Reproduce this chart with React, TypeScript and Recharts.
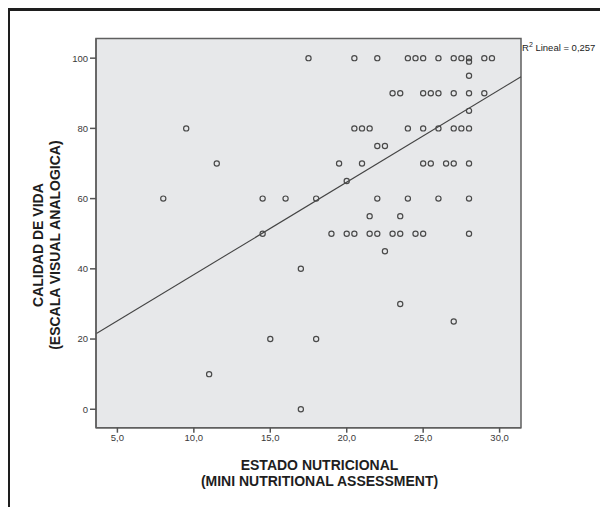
import { ScatterChart, Scatter, XAxis, YAxis, CartesianGrid, ReferenceLine, ReferenceArea, Label } from "recharts"

// MNA score (x) and visual analogue scale (y)
const mnaScores = [
  17.5, 20.5, 22, 24, 24.5, 25, 26, 27, 27.5, 28, 29, 29.5,
  28, 28,
  23, 23.5, 25, 25.5, 26, 27, 28, 29,
  28,
  9.5, 20.5, 21, 21.5, 24, 25, 26, 27, 27.5, 28,
  22, 22.5,
  11.5, 19.5, 21, 25, 25.5, 26.5, 27, 28,
  20,
  8, 14.5, 16, 18, 22, 24, 26, 28,
  21.5, 23.5,
  14.5, 19, 20, 20.5, 21.5, 22, 23, 23.5, 24.5, 25, 28,
  22.5, 17, 23.5, 27, 15, 18, 11, 17,
]
const vasScores = [
  100, 100, 100, 100, 100, 100, 100, 100, 100, 100, 100, 100,
  99, 95,
  90, 90, 90, 90, 90, 90, 90, 90,
  85,
  80, 80, 80, 80, 80, 80, 80, 80, 80, 80,
  75, 75,
  70, 70, 70, 70, 70, 70, 70, 70,
  65,
  60, 60, 60, 60, 60, 60, 60, 60,
  55, 55,
  50, 50, 50, 50, 50, 50, 50, 50, 50, 50, 50,
  45, 40, 30, 25, 20, 20, 10, 0,
]

const xTicks = [5, 10, 15, 20, 25, 30]
const yTicks = [0, 20, 40, 60, 80, 100]
const xDomain: [number, number] = [3.6, 31.4]
const yDomain: [number, number] = [-5.25, 105.6]

// linear fit as drawn
const fitIntercept = 12.0
const fitSlope = 2.634
const rSquaredText = "0,257"

const font = "'Liberation Sans', Arial, sans-serif"

const points = mnaScores.map((x, i) => ({ mna: x, vas: vasScores[i] }))
const fitSegment = xDomain.map((x) => ({ x, y: fitIntercept + fitSlope * x }))

const OpenCircle = (props: any) => (
  <circle cx={props.cx} cy={props.cy} r={2.6} fill="none" stroke="#4a4a4a" strokeWidth={1.2} />
)

function YTitle(props: any) {
  const vb = props.viewBox
  const cy = vb.y + vb.height / 2 + 12
  const style = { fontFamily: font, fontSize: 14, fontWeight: 700, fill: "#1e1e1e" }
  return (
    <g>
      <text x={30.5} y={cy} transform={`rotate(-90 30.5 ${cy})`} textAnchor="middle" dominantBaseline="central" style={style}>
        CALIDAD DE VIDA
      </text>
      <text x={47} y={cy} transform={`rotate(-90 47 ${cy})`} textAnchor="middle" dominantBaseline="central" style={style}>
        (ESCALA VISUAL ANALOGICA)
      </text>
    </g>
  )
}

function XTitle(props: any) {
  const vb = props.viewBox
  const cx = vb.x + vb.width / 2 + 11
  const style = { fontFamily: font, fontSize: 14, fontWeight: 700, fill: "#1e1e1e" }
  return (
    <g>
      <text x={cx} y={vb.y + 42} textAnchor="middle" style={style}>
        ESTADO NUTRICIONAL
      </text>
      <text x={cx} y={vb.y + 58} textAnchor="middle" style={style}>
        (MINI NUTRITIONAL ASSESSMENT)
      </text>
    </g>
  )
}

function RSquared(props: any) {
  const vb = props.viewBox
  return (
    <text x={vb.x + vb.width + 1} y={vb.y + 12} style={{ fontFamily: font, fontSize: 9.5, fill: "#222" }}>
      R
      <tspan dy={-4} fontSize={7}>2</tspan>
      <tspan dy={4}> Lineal = {rSquaredText}</tspan>
    </text>
  )
}

const tickStyle = { fill: "#3a3a3a", fontSize: 9.5, fontFamily: font }

export default function App() {
  return (
    <div style={{ position: "relative", width: 600, height: 499 }}>
      <ScatterChart width={600} height={499} margin={{ top: 30.5, right: 87, left: 0, bottom: 0 }}>
        <CartesianGrid fill="#e7e8ea" horizontal={false} vertical={false} />
        <XAxis
          type="number"
          dataKey="mna"
          domain={xDomain}
          ticks={xTicks}
          allowDataOverflow
          height={79.3}
          tick={tickStyle}
          tickFormatter={(v: number) => v.toFixed(1).replace(".", ",")}
          tickLine={{ stroke: "#555", strokeWidth: 1.5 }}
          axisLine={{ stroke: "#5f5f5f", strokeWidth: 1.5 }}
          tickSize={5}
        >
          <Label content={XTitle} />
        </XAxis>
        <YAxis
          type="number"
          dataKey="vas"
          domain={yDomain}
          ticks={yTicks}
          allowDataOverflow
          width={88}
          tick={tickStyle}
          tickLine={{ stroke: "#555", strokeWidth: 1.5 }}
          axisLine={{ stroke: "#5f5f5f", strokeWidth: 1.5 }}
          tickSize={6}
        >
          <Label content={YTitle} />
        </YAxis>
        <ReferenceArea
          x1={xDomain[0]}
          x2={xDomain[1]}
          y1={yDomain[0]}
          y2={yDomain[1]}
          fill="none"
          stroke="#5f5f5f"
          strokeWidth={1.5}
        />
        <ReferenceLine y={yDomain[1]} stroke="none" label={<RSquared />} />
        <ReferenceLine segment={fitSegment} stroke="#444" strokeWidth={1.1} />
        <Scatter data={points} shape={OpenCircle} isAnimationActive={false} />
      </ScatterChart>
      <div
        style={{
          position: "absolute",
          left: -1,
          top: 0,
          width: 601,
          height: 499,
          borderTop: "3px solid #1e1e1e",
          borderLeft: "3px solid #1e1e1e",
          boxSizing: "border-box",
          pointerEvents: "none",
        }}
      />
    </div>
  )
}
